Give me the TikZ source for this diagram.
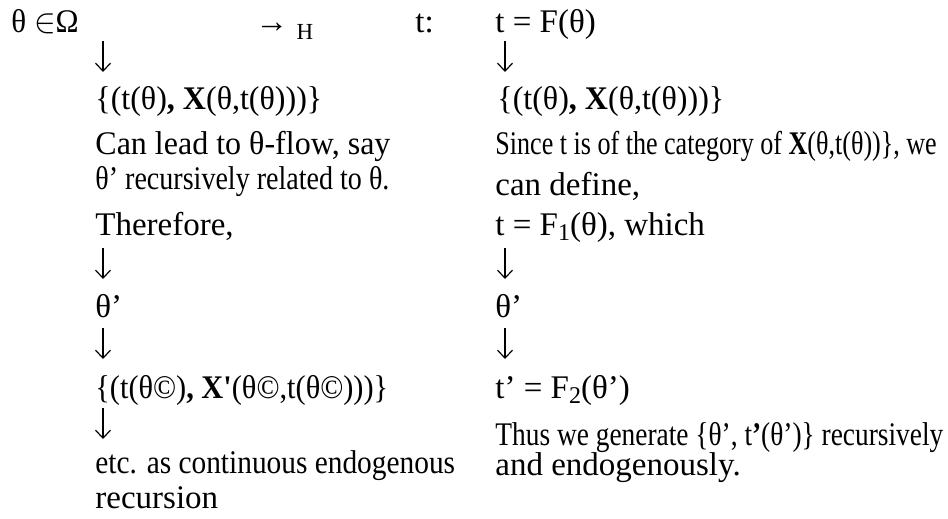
\documentclass[tikz,border=0pt]{standalone}
\usepackage{fontspec}
\setmainfont{Liberation Serif}
\usetikzlibrary{arrows.meta, positioning}
\tikzset{
  txt/.style={anchor=base west, inner sep=0pt,
    font=\fontsize{16.5}{19}\selectfont},
  flowarr/.style={-{Straight Barb[length=4pt, width=7.5pt]}, line width=0.6pt}
}
% squeeze a line sideways, as the narrow lines of the page are
\newcommand{\hsq}[2]{\scalebox{#1}[1]{#2}}
\newcommand{\lowsub}[1]{\raisebox{-2.5pt}{\fontsize{12}{14}\selectfont #1}}

\begin{document}
\begin{tikzpicture}[x=0.5pt, y=-0.5pt]
  \useasboundingbox (0,0) rectangle (948,519);

  % top line
  \node[txt] (theta) at (11,33) {\hsq{0.94}{θ $\in$Ω}};
  \node[txt] (toh) at (255,33) {→ \raisebox{-3.5pt}{\fontsize{11.5}{13}\selectfont H}};
  \node[txt] (tcol) at (415,33) {t:};
  \node[txt] (tF) at (495,33) {t = F(θ)};

  % left column
  \node[txt] (lset) at (95,110) {\hsq{0.97}{\{(t(θ)\textbf{, X}(θ,t(θ)))\}}};
  \node[txt] (lflow) at (95,155) {\hsq{0.97}{Can lead to θ-flow, say}};
  \node[txt] (lrec) at (95,190) {\hsq{0.85}{θ’ recursively related to θ.}};
  \node[txt] (lthus) at (95,235) {Therefore,};
  \node[txt] (lth) at (95,317) {θ’};
  \node[txt] (lset2) at (95,398) {\hsq{0.92}{\{(t(θ©)\textbf{, X\textquotesingle}(θ©,t(θ©)))\}}};
  \node[txt] (letc) at (95,473) {\hsq{0.89}{etc. as continuous endogenous}};
  \node[txt] (lrecur) at (95,508) {recursion};

  % right column
  \node[txt] (rset) at (497,110) {\hsq{0.97}{\{(t(θ)\textbf{, X}(θ,t(θ)))\}}};
  \node[txt] (rsince) at (495,155) {\hsq{0.79}{Since t is of the category of \textbf{X}(θ,t(θ))\}, we}};
  \node[txt] (rdef) at (495,195) {can define,};
  \node[txt] (rF1) at (495,235) {t = F\lowsub{1}(θ), which};
  \node[txt] (rth) at (495,317) {θ’};
  \node[txt] (rF2) at (495,398) {t’ = F\lowsub{2}(θ’)};
  \node[txt] (rgen) at (495,445) {\hsq{0.83}{Thus we generate \{θ’, t\textbf{’}(θ’)\} recursively}};
  \node[txt] (rendo) at (495,475) {and endogenously.};

  % down arrows
  \foreach \a/\x/\y in {la1/103/41, la2/103/248, la3/103/328, la4/103/408,
                        ra1/505/41, ra2/505/248, ra3/505/328} {
    \coordinate (\a-s) at (\x,\y);
    \coordinate (\a-e) at (\x,\y+31);
    \draw[flowarr] (\a-s) -- (\a-e);
  }
\end{tikzpicture}
\end{document}
